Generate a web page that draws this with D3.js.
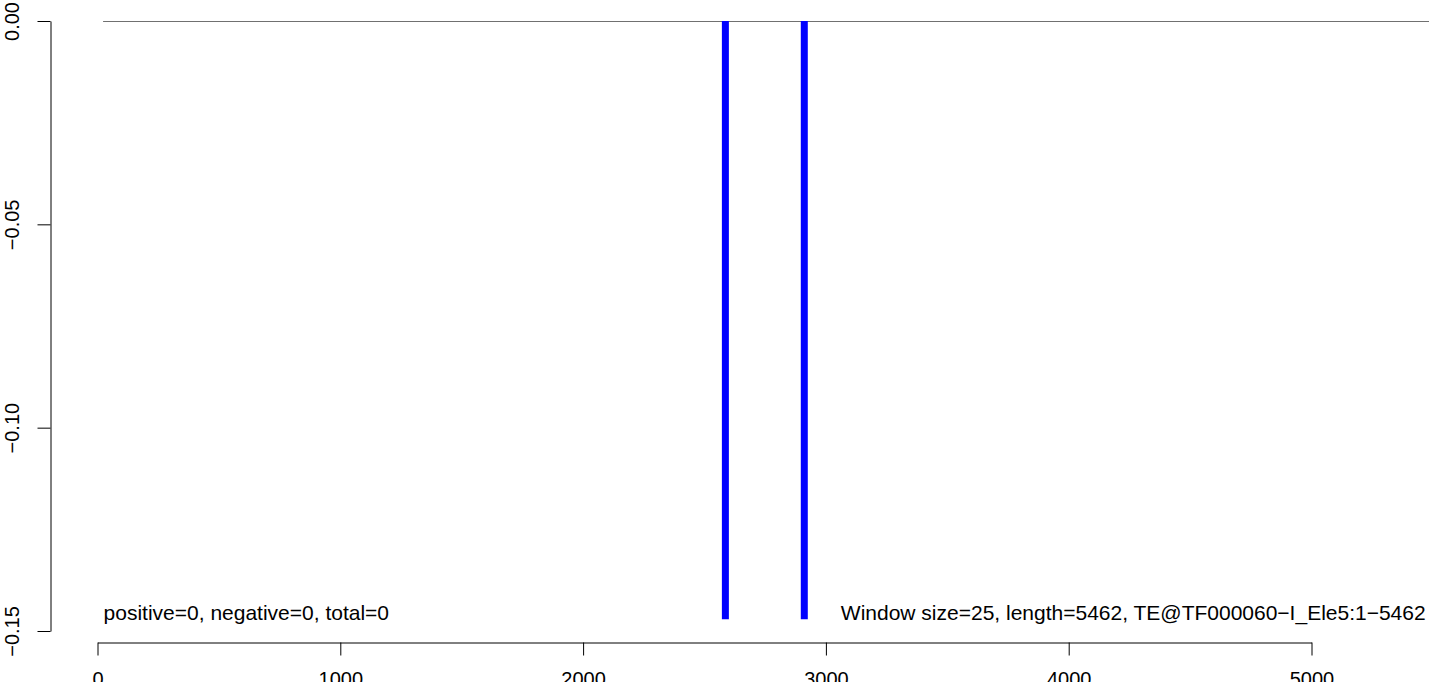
<!DOCTYPE html>
<html>
<head>
<meta charset="utf-8">
<script src="https://cdn.jsdelivr.net/npm/d3@7"></script>
<style>
  html, body { margin: 0; padding: 0; background: #fff; }
  svg { display: block; font-family: "Liberation Sans", Arial, Helvetica, sans-serif; }
</style>
</head>
<body>
<svg id="chart" width="1429" height="682"></svg>
<script>
// ---- data ----
const xTicks = [0, 1000, 2000, 3000, 4000, 5000];
const xTickLabels = ["0", "1000", "2000", "3000", "4000", "5000"];
const yTicks = [0, -0.05, -0.10, -0.15];
const yTickLabels = ["0.00", "\u22120.05", "\u22120.10", "\u22120.15"];
const baselineX = [23, 5500];         // horizontal reference line at y = 0
const baselineY = [0, 0];
const barPositions = [2586, 2911];    // vertical blue marks
const barTops = [0, 0];
const barBottoms = [-0.1471, -0.1471];
const leftNote = "positive=0, negative=0, total=0";
const rightNote = "Window size=25, length=5462, TE@TF000060\u2212I_Ele5:1\u22125462";
const noteY = -0.147;

// ---- scales ----
const svg = d3.select("#chart");
const x = d3.scaleLinear().domain([0, 5000]).range([97.5, 1311.5]);
const y = d3.scaleLinear().domain([-0.15, 0]).range([631, 21]);

// ---- horizontal line at 0 ----
svg.append("line")
  .attr("x1", x(baselineX[0])).attr("x2", x(baselineX[1]))
  .attr("y1", y(baselineY[0]) + 0.5).attr("y2", y(baselineY[1]) + 0.5)
  .attr("stroke", "#707070").attr("stroke-width", 1);

// ---- blue vertical marks ----
svg.selectAll("line.bar").data(barPositions).enter().append("line")
  .attr("class", "bar")
  .attr("x1", d => x(d)).attr("x2", d => x(d))
  .attr("y1", (d, i) => y(barTops[i])).attr("y2", (d, i) => y(barBottoms[i]))
  .attr("stroke", "#0000ff").attr("stroke-width", 7);

// ---- y axis ----
const yAxis = d3.axisLeft(y)
  .tickValues(yTicks)
  .tickFormat((d, i) => yTickLabels[i])
  .tickSize(13).tickSizeOuter(0);
const gy = svg.append("g").attr("transform", "translate(50.5,0)").call(yAxis);
gy.select(".domain").attr("stroke", "#000").attr("stroke-width", 1);
gy.selectAll(".tick line").attr("stroke", "#000").attr("stroke-width", 1);
gy.selectAll(".tick text")
  .attr("x", 0).attr("dy", 0)
  .attr("transform", "translate(-31.5,0) rotate(-90)")
  .attr("text-anchor", "middle")
  .attr("fill", "#000")
  .style("font-size", "20px")
  .style("font-family", "'Liberation Sans', Arial, sans-serif");

// ---- x axis ----
const xAxis = d3.axisBottom(x)
  .tickValues(xTicks)
  .tickFormat((d, i) => xTickLabels[i])
  .tickSize(13).tickSizeOuter(0);
const gx = svg.append("g").attr("transform", "translate(0,642.5)").call(xAxis);
gx.select(".domain").attr("stroke", "#000").attr("stroke-width", 1);
gx.selectAll(".tick line").attr("stroke", "#000").attr("stroke-width", 1);
gx.selectAll(".tick text")
  .attr("y", 43.5).attr("dy", 0)
  .attr("fill", "#000")
  .style("font-size", "20px")
  .style("font-family", "'Liberation Sans', Arial, sans-serif");

// ---- annotations ----
svg.append("text")
  .attr("x", x(25)).attr("y", y(noteY) + 1)
  .attr("text-anchor", "start")
  .style("font-size", "21px")
  .text(leftNote);
svg.append("text")
  .attr("x", x(5462) + 2).attr("y", y(noteY) + 1)
  .attr("text-anchor", "end")
  .style("font-size", "21px")
  .text(rightNote);
</script>
</body>
</html>
